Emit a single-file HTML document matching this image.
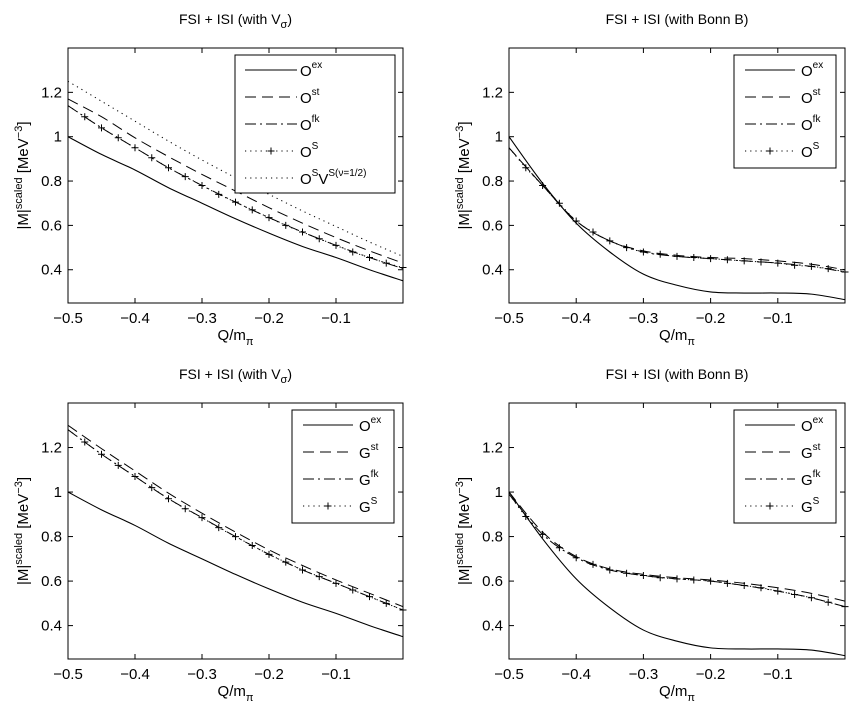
<!DOCTYPE html>
<html><head><meta charset="utf-8"><style>
body{margin:0;background:#fff;}
svg{display:block;font-family:"Liberation Sans",sans-serif;}
</style></head><body>
<svg id="fig" width="854" height="720" viewBox="0 0 854 720"></svg>
<script>
const xTicks=[-0.5,-0.4,-0.3,-0.2,-0.1];
const xTickLabels=["\u22120.5","\u22120.4","\u22120.3","\u22120.2","\u22120.1"];
const yTicks=[0.4,0.6,0.8,1.0,1.2];
const yTickLabels=["0.4","0.6","0.8","1","1.2"];
const xCoarse=[-0.5,-0.45,-0.4,-0.35,-0.3,-0.25,-0.2,-0.15,-0.1,-0.05,0];
const xFine=[-0.5,-0.475,-0.45,-0.425,-0.4,-0.375,-0.35,-0.325,-0.3,-0.275,-0.25,-0.225,-0.2,-0.175,-0.15,-0.125,-0.1,-0.075,-0.05,-0.025,0];
// panel 1 (V sigma, O)
const p1Ex=[1.0,0.92,0.85,0.77,0.70,0.63,0.565,0.505,0.455,0.40,0.35];
const p1St=[1.17,1.09,0.995,0.91,0.83,0.755,0.68,0.61,0.545,0.485,0.43];
const p1Fk=[1.14,1.04,0.95,0.86,0.78,0.705,0.635,0.57,0.51,0.455,0.405];
const p1S=[1.14,1.09,1.04,0.995,0.95,0.905,0.86,0.82,0.78,0.74,0.705,0.67,0.635,0.60,0.57,0.54,0.51,0.48,0.455,0.43,0.41];
const p1SV=[1.25,1.16,1.07,0.98,0.895,0.815,0.74,0.665,0.595,0.525,0.46];
// panel 2 (Bonn B, O)
const p2Ex=[1.0,0.79,0.61,0.48,0.38,0.33,0.30,0.295,0.295,0.29,0.265];
const p2St=[0.95,0.78,0.62,0.53,0.485,0.465,0.455,0.45,0.44,0.425,0.40];
const p2Fk=[0.95,0.78,0.62,0.53,0.48,0.46,0.45,0.44,0.43,0.415,0.39];
const p2S=[0.95,0.86,0.78,0.70,0.62,0.57,0.53,0.50,0.48,0.47,0.46,0.455,0.45,0.445,0.44,0.435,0.43,0.42,0.415,0.405,0.39];
// panel 3 (V sigma, G)
const p3Ex=[1.0,0.92,0.85,0.77,0.70,0.63,0.565,0.505,0.455,0.40,0.35];
const p3St=[1.30,1.195,1.095,0.995,0.905,0.82,0.74,0.67,0.605,0.545,0.485];
const p3Fk=[1.28,1.17,1.07,0.97,0.885,0.80,0.72,0.65,0.59,0.53,0.47];
const p3S=[1.28,1.225,1.17,1.12,1.07,1.02,0.97,0.925,0.885,0.84,0.80,0.76,0.72,0.685,0.65,0.62,0.59,0.56,0.53,0.50,0.47];
// panel 4 (Bonn B, G)
const p4Ex=[1.0,0.79,0.61,0.48,0.38,0.33,0.30,0.295,0.295,0.29,0.265];
const p4St=[1.0,0.82,0.71,0.655,0.63,0.615,0.605,0.59,0.57,0.545,0.51];
const p4Fk=[0.99,0.81,0.705,0.65,0.625,0.61,0.60,0.58,0.555,0.525,0.485];
const p4S=[0.99,0.89,0.81,0.75,0.705,0.675,0.65,0.635,0.625,0.615,0.61,0.605,0.60,0.59,0.58,0.57,0.555,0.54,0.525,0.505,0.485];

const NS="http://www.w3.org/2000/svg";
const svg=document.getElementById('fig');
function mk(tag,attrs,parent){const e=document.createElementNS(NS,tag);for(const k in attrs)e.setAttribute(k,attrs[k]);(parent||svg).appendChild(e);return e;}
const dashes={ex:"",st:"11,6",fk:"11,4,2,4",S:"1.2,4",SV:"1.2,4"};

const panels=[
 {id:"top-left",L:68,R:403,T:48,B:303,title:"FSI + ISI (with V",sub:"\u03c3",
  series:[["ex",xCoarse,p1Ex,"O","ex"],["st",xCoarse,p1St,"O","st"],["fk",xCoarse,p1Fk,"O","fk"],["S",xFine,p1S,"O","S"],["SV",xCoarse,p1SV,"O","S"]],
  leg:{x:235,y:55,w:160,h:138,dy:27,lx0:245,lx1:297,tx:300}},
 {id:"top-right",L:509,R:845,T:48,B:303,title:"FSI + ISI (with Bonn B)",
  series:[["ex",xCoarse,p2Ex,"O","ex"],["st",xCoarse,p2St,"O","st"],["fk",xCoarse,p2Fk,"O","fk"],["S",xFine,p2S,"O","S"]],
  leg:{x:734,y:55,w:102,h:113,dy:27,lx0:745,lx1:795,tx:801}},
 {id:"bottom-left",L:68,R:403,T:403,B:659,title:"FSI + ISI (with V",sub:"\u03c3",
  series:[["ex",xCoarse,p3Ex,"O","ex"],["st",xCoarse,p3St,"G","st"],["fk",xCoarse,p3Fk,"G","fk"],["S",xFine,p3S,"G","S"]],
  leg:{x:292,y:410,w:102,h:113,dy:27,lx0:303,lx1:353,tx:359}},
 {id:"bottom-right",L:509,R:845,T:403,B:659,title:"FSI + ISI (with Bonn B)",
  series:[["ex",xCoarse,p4Ex,"O","ex"],["st",xCoarse,p4St,"G","st"],["fk",xCoarse,p4Fk,"G","fk"],["S",xFine,p4S,"G","S"]],
  leg:{x:734,y:410,w:102,h:113,dy:27,lx0:745,lx1:795,tx:801}}
];

function smoothPath(pts){
 let d="M"+pts[0][0].toFixed(2)+","+pts[0][1].toFixed(2);
 for(let i=0;i<pts.length-1;i++){
  const p0=pts[Math.max(0,i-1)],p1=pts[i],p2=pts[i+1],p3=pts[Math.min(pts.length-1,i+2)];
  const c1=[p1[0]+(p2[0]-p0[0])/6,p1[1]+(p2[1]-p0[1])/6];
  const c2=[p2[0]-(p3[0]-p1[0])/6,p2[1]-(p3[1]-p1[1])/6];
  d+=" C"+c1.map(v=>v.toFixed(2))+" "+c2.map(v=>v.toFixed(2))+" "+p2.map(v=>v.toFixed(2));
 }
 return d;
}

panels.forEach(p=>{
 const g=mk('g',{});
 
 
 const xs=v=>p.L+(v+0.5)/0.5*(p.R-p.L);
 const ys=v=>p.B-(v-0.25)/(1.4-0.25)*(p.B-p.T);
 const cx=(p.L+p.R)/2;
 // title
 const t=mk('text',{x:cx,y:p.T-24,'text-anchor':'middle','font-size':14},g);
 
 
 t.textContent=p.title;
 if(p.sub){const s=mk('tspan',{'font-size':11,dy:4},t);s.textContent=p.sub;const c=mk('tspan',{'font-size':14,dy:-4},t);c.textContent=")";}
 // axes box
 const box=mk('rect',{x:p.L,y:p.T,width:p.R-p.L,height:p.B-p.T,fill:'none',stroke:'#000','stroke-width':1},g);
 
 
 xTicks.forEach((v,i)=>{
  const x=xs(v);
  mk('line',{x1:x,x2:x,y1:p.B,y2:p.B-5,stroke:'#000'},g);
  mk('line',{x1:x,x2:x,y1:p.T,y2:p.T+5,stroke:'#000'},g);
  const tl=mk('text',{x:x,y:p.B+20,'text-anchor':'middle','font-size':15},g);
  
  
  tl.textContent=xTickLabels[i];
 });
 yTicks.forEach((v,i)=>{
  const y=ys(v);
  mk('line',{x1:p.L,x2:p.L+5,y1:y,y2:y,stroke:'#000'},g);
  mk('line',{x1:p.R,x2:p.R-5,y1:y,y2:y,stroke:'#000'},g);
  const tl=mk('text',{x:p.L-6,y:y+5,'text-anchor':'end','font-size':15},g);
  
  
  tl.textContent=yTickLabels[i];
 });
 // x label
 const xl=mk('text',{x:cx,y:p.B+37,'text-anchor':'middle','font-size':15},g);
 
 
 xl.textContent="Q/m";
 const xls=mk('tspan',{'font-size':11,dy:5},xl);xls.textContent="\u03c0";
 // y label
 const yc=(p.T+p.B)/2;
 const yl=mk('text',{x:0,y:0,'text-anchor':'middle','font-size':15,transform:`translate(${p.L-40},${yc}) rotate(-90)`},g);
 
 
 yl.textContent="|M|";
 const a=mk('tspan',{'font-size':11,dy:-6},yl);a.textContent="scaled";
 const b=mk('tspan',{'font-size':15,dy:6},yl);b.textContent=" [MeV";
 const c2=mk('tspan',{'font-size':11,dy:-6},yl);c2.textContent="\u22123";
 const d2=mk('tspan',{'font-size':15,dy:6},yl);d2.textContent="]";
 // series
 const clipId='clip-'+p.id;
 const cp=mk('clipPath',{id:clipId},g);mk('rect',{x:p.L,y:p.T,width:p.R-p.L,height:p.B-p.T},cp);
 p.series.forEach(s=>{
  const [key,xsArr,vals]=s;
  const pts=xsArr.map((x,i)=>[xs(x),ys(vals[i])]);
  const path=mk('path',{d:smoothPath(pts),fill:'none',stroke:'#000','stroke-width':key==='ex'?1.1:1,'stroke-dasharray':dashes[key],'clip-path':`url(#${clipId})`},g);
  
  
  if(key==='S'){
   pts.forEach((q,i)=>{
    if(i===0)return;
    const m=mk('path',{d:`M${q[0]-3.5},${q[1]}h7M${q[0]},${q[1]-3.5}v7`,stroke:'#000','stroke-width':1},g);
    
    
   });
  }
 });
 // legend
 const L=p.leg;
 const lg=mk('g',{},g);
 
 
 mk('rect',{x:L.x,y:L.y,width:L.w,height:L.h,fill:'#fff',stroke:'#000'},lg);
 p.series.forEach((s,i)=>{
  const [key,, ,letter,sup]=s;
  const y=L.y+15+i*L.dy;
  const e=mk('g',{},lg);
  
  
  mk('line',{x1:L.lx0,x2:L.lx1,y1:y,y2:y,stroke:'#000','stroke-dasharray':dashes[key]},e);
  if(key==='S'){const mx=(L.lx0+L.lx1)/2;mk('path',{d:`M${mx-3.5},${y}h7M${mx},${y-3.5}v7`,stroke:'#000'},e);}
  const tx=mk('text',{x:L.tx,y:y+6,'font-size':15},e);
  tx.textContent=letter;
  const sp=mk('tspan',{'font-size':10,dy:-8},tx);sp.textContent=sup;
  if(key==='SV'){const v=mk('tspan',{'font-size':15,dy:8},tx);v.textContent="V";const v2=mk('tspan',{'font-size':10,dy:-8},tx);v2.textContent="S(\u03bd=1/2)";}
 });
});
</script>
</body></html>
